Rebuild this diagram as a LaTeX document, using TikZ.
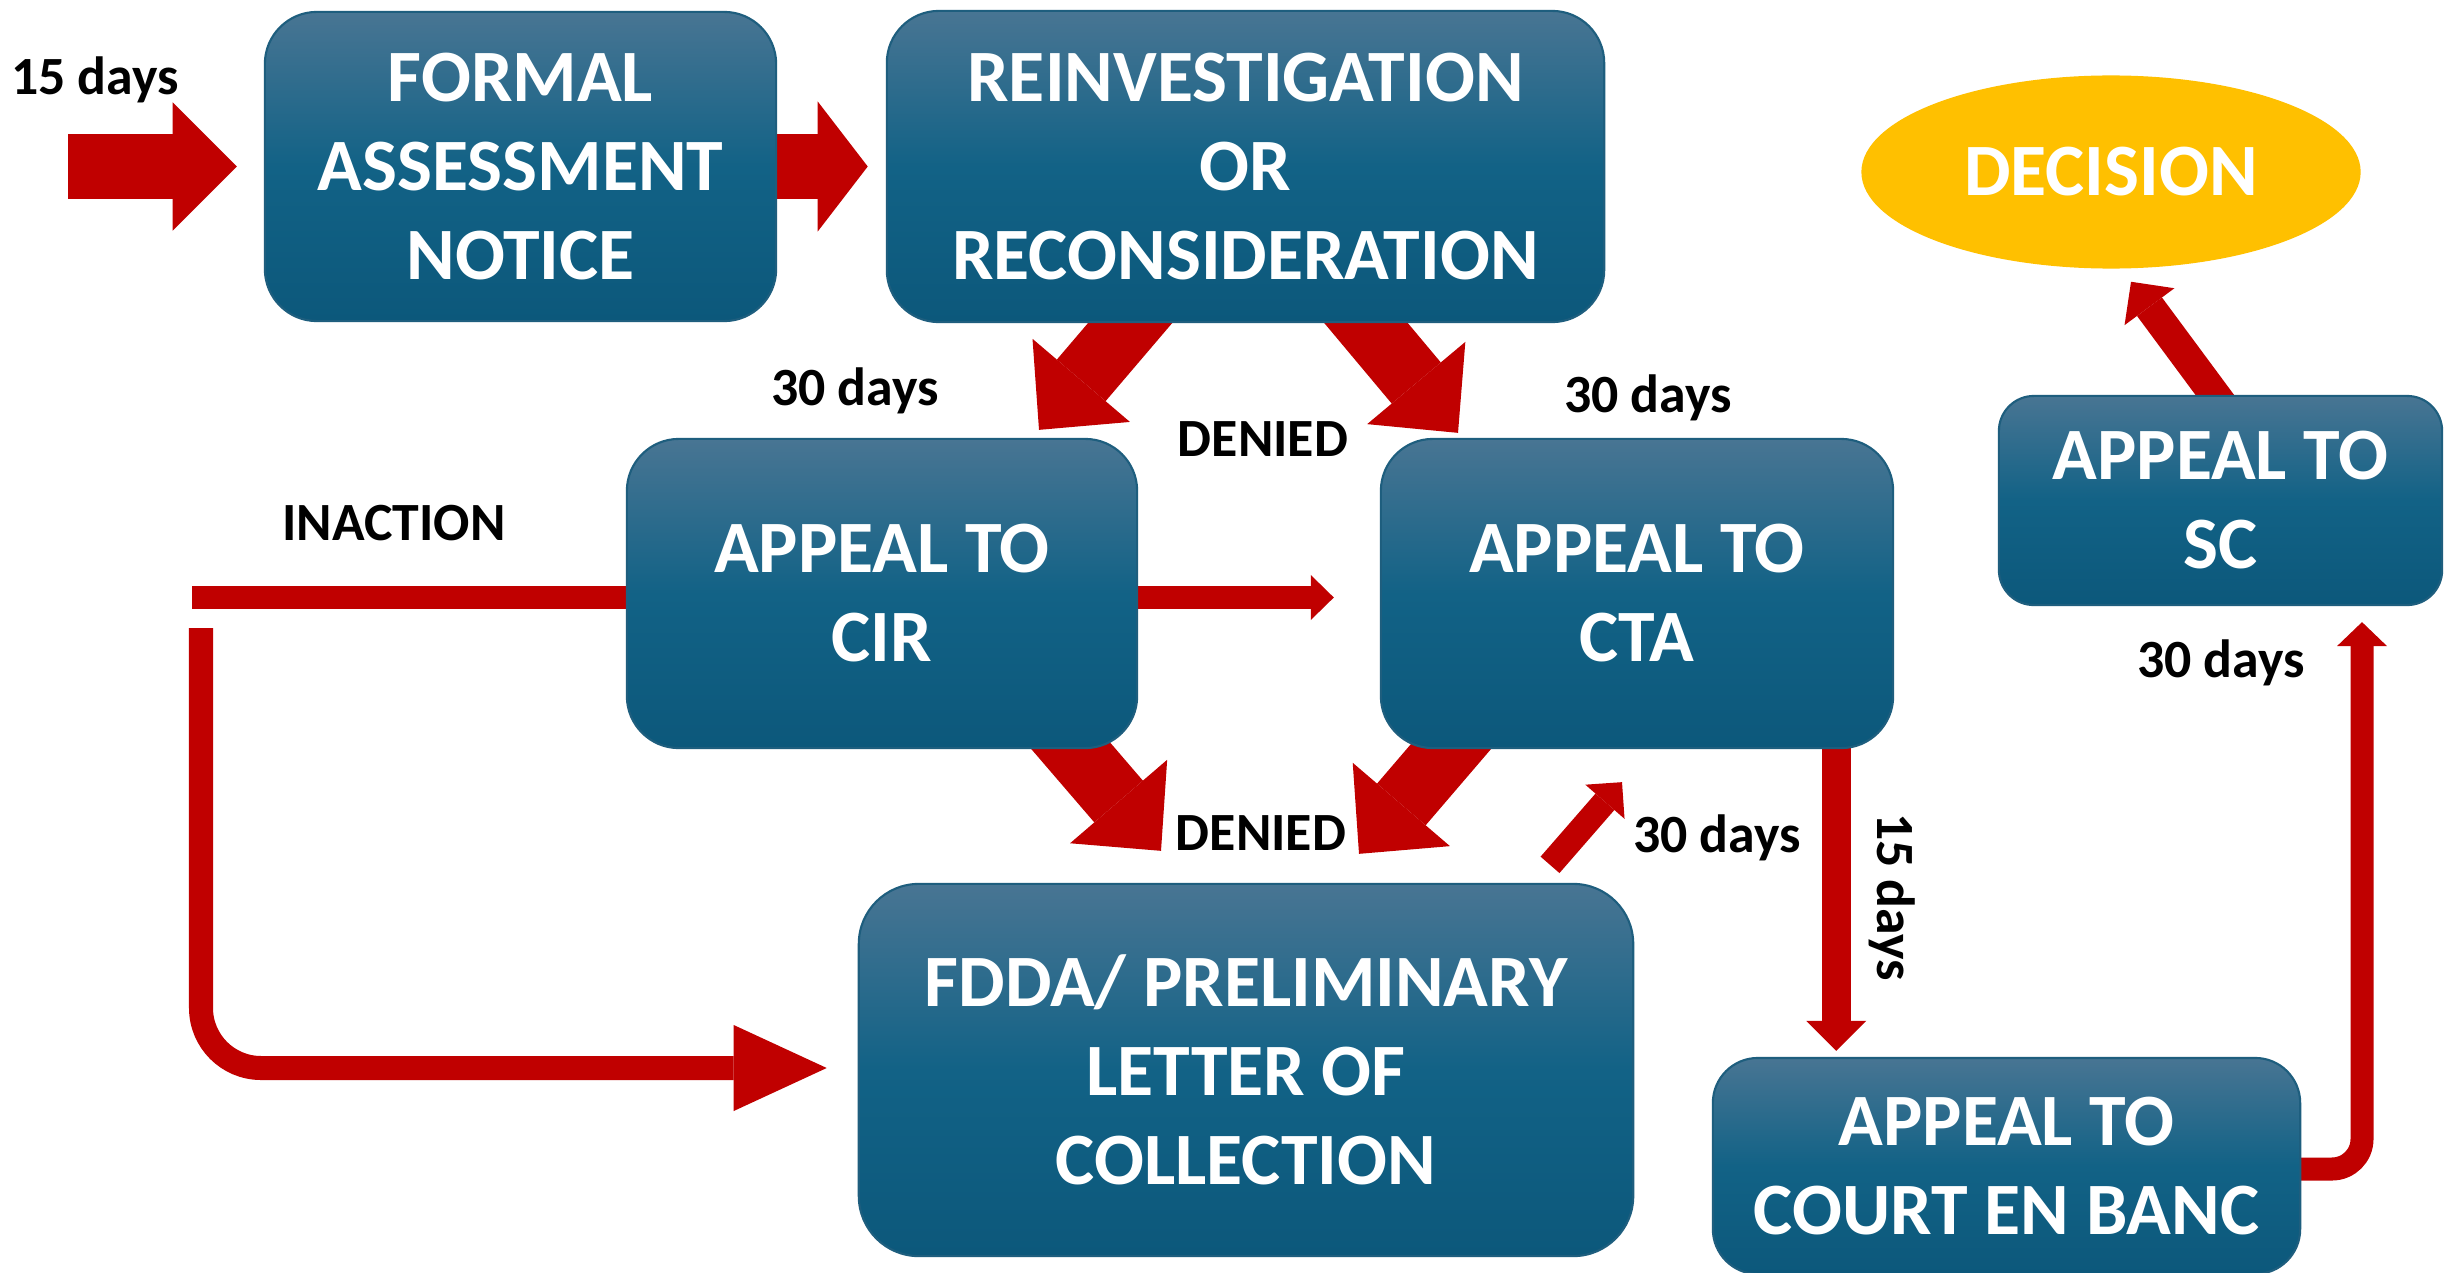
\documentclass[tikz,border=0pt]{standalone}
\usepackage{fontspec}
\setmainfont{Carlito}
\usepackage{tikz}
\usetikzlibrary{arrows.meta}
\usetikzlibrary{shapes.geometric}
\usetikzlibrary{calc}
\usetikzlibrary{backgrounds}
\definecolor{boxtop}{RGB}{72,117,147}
\definecolor{boxmid}{RGB}{18,98,134}
\definecolor{boxbot}{RGB}{12,88,123}
\definecolor{boxline}{RGB}{30,94,126}
\definecolor{flow}{RGB}{192,0,0}
\definecolor{gold}{RGB}{255,192,0}
\tikzset{
    step_box/.style = {align=center, inner sep=0pt, rounded corners=0.52cm, draw=boxline, line width=0.6pt,
        top color=boxtop, bottom color=boxbot, middle color=boxmid, text=white,
        font=\bfseries\fontsize{21}{25.3}\selectfont},
    end_node/.style = {ellipse, fill=gold, text=white, inner sep=0pt, font=\bfseries\fontsize{21}{25.3}\selectfont},
    day_label/.style = {anchor=base, inner sep=0pt, font=\bfseries\fontsize{15.3}{18}\selectfont},
    red_arrow/.style n args = {3}{draw=flow, line width=#1, -{Triangle[length=#2, width=#3, line width=0pt]}},
    fat_arrow/.style = {red_arrow={0.64cm}{0.65cm}{1.28cm}}
}
\begin{document}
\begin{tikzpicture}[x=0.01cm, y=-0.01cm]
    \useasboundingbox (0,0) rectangle (2458,1273);

    % steps
    \node[step_box, minimum width=5.11cm, minimum height=3.09cm] (fan) at (520.5,166.5) {FORMAL\\ASSESSMENT\\NOTICE};
    \node[step_box, minimum width=7.17cm, minimum height=3.11cm] (reinv) at (1245.5,166.5) {REINVESTIGATION\\OR\\RECONSIDERATION};
    \node[step_box, minimum width=5.10cm, minimum height=3.09cm] (cir) at (882,593.5) {APPEAL TO\\CIR};
    \node[step_box, minimum width=5.12cm, minimum height=3.09cm] (cta) at (1637,593.5) {APPEAL TO\\CTA};
    \node[step_box, minimum width=7.74cm, minimum height=3.72cm, rounded corners=0.6cm] (fdda) at (1246,1070) {FDDA/ PRELIMINARY\\LETTER OF\\COLLECTION};
    \node[step_box, minimum width=4.43cm, minimum height=2.09cm, rounded corners=0.35cm] (sc) at (2220.5,500.5) {APPEAL TO\\SC};
    \node[step_box, minimum width=5.87cm, minimum height=2.16cm, rounded corners=0.45cm] (ceb) at (2006.5,1166) {APPEAL TO\\COURT EN BANC};
    \node[end_node, minimum width=4.99cm, minimum height=1.93cm] (dec) at (2111,172) {DECISION};

    % labels
    \node[day_label] (d15a) at (95,95) {15 days};
    \node[day_label] (d30a) at (855,405) {30 days};
    \node[day_label] (den1) at (1263,456) {DENIED};
    \node[day_label] (d30b) at (1648,412) {30 days};
    \node[day_label] (inaction) at (394,540) {INACTION};
    \node[day_label] (den2) at (1261,850) {DENIED};
    \node[day_label] (d30c) at (1717,852) {30 days};
    \node[day_label, rotate=-90] (d15b) at (1877,897) {15 days};
    \node[day_label] (d30d) at (2221,677) {30 days};

    % arrows
    \begin{scope}[on background layer]
        \fill[white] (0,0) rectangle (2458,1273);
        \coordinate (entry) at (68,166.5);
        \coordinate (inact) at (192,597.5);
        \coordinate (drop) at (201,628);
        \coordinate (t10) at ($(ceb.north west)+(124.5,-6)$);
        \draw[red_arrow={0.64cm}{0.64cm}{1.28cm}] (entry) -- ([xshift=-0.27cm]fan.west);
        \draw[red_arrow={0.64cm}{0.50cm}{1.30cm}] (fan.east) -- ([xshift=-0.18cm]reinv.west);
        \draw[fat_arrow] ($(reinv.south)+(-95,-24)$) -- ($(cir.north)+(157,-8)$);
        \draw[fat_arrow] ($(reinv.south)+(100.5,-24)$) -- ($(cta.north)+(-179,-5)$);
        \draw[fat_arrow] ($(cir.south)+(170.6,-24.4)$) -- ($(fdda.north)+(-85,-32)$);
        \draw[fat_arrow] ($(cta.south)+(-167.7,-24)$) -- ($(fdda.north)+(113,-29)$);
        \draw[red_arrow={0.25cm}{0.26cm}{0.52cm}] ($(fdda.north)+(304,-18)$) -- ($(cta.south)+(-15,33)$);
        \draw[red_arrow={0.22cm}{0.23cm}{0.45cm}] (inact) -- ($(cta.west)+(-46,4)$);
        \draw[red_arrow={0.24cm}{0.93cm}{0.86cm}, rounded corners=0.6cm] (drop) |- ($(fdda.west)+(-31,-2)$);
        \draw[red_arrow={0.29cm}{0.30cm}{0.60cm}] ($(cta.south -| t10)+(0,-20)$) -- (t10);
        \draw[red_arrow={0.23cm}{0.24cm}{0.50cm}, rounded corners=0.3cm] ($(ceb.east)+(-10,3)$) -| ($(sc.south)+(141.5,16)$);
        \draw[red_arrow={0.31cm}{0.31cm}{0.62cm}] ($(sc.north)+(12,24)$) -- ($(dec.south)+(20,12.5)$);
    \end{scope}
\end{tikzpicture}
\end{document}
